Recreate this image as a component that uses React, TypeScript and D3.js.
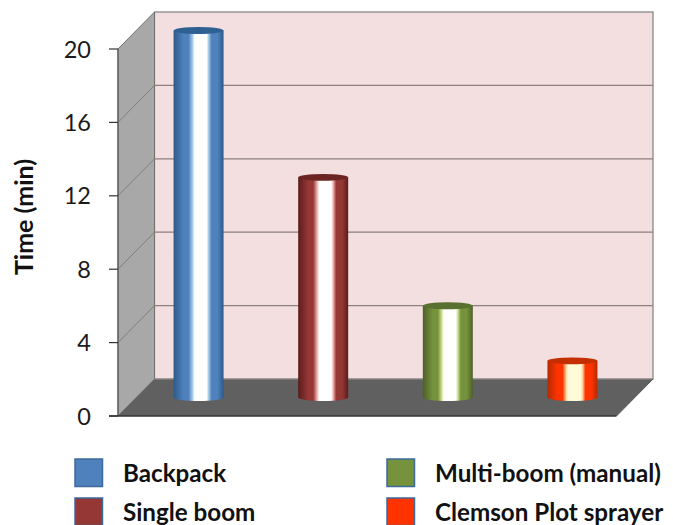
import React from "react";
import * as d3 from "d3";

const categories = ["Backpack", "Single boom", "Multi-boom (manual)", "Clemson Plot sprayer"];
const minutes = [20, 12, 5, 2];
const yTicks = [0, 4, 8, 12, 16, 20];
const darkShades = ["#2c5a8a", "#5a1c1b", "#4c6126", "#b32a00"];
const baseShades = ["#4f81bd", "#953735", "#76923c", "#ff3300"];
const glowShades = ["#a8cdea", "#f0b4b0", "#cfe08f", "#ffd9a0"];
const coreShades = ["#ffffff", "#ffffff", "#ffffff", "#fffbd8"];
const capShades = ["#2f6092", "#6b2422", "#587030", "#c42e00"];

const WIDTH = 673;
const HEIGHT = 525;
const FONT = "Lato, 'Open Sans', sans-serif";

// Oblique projection: the front plane sits at the axis, the wall is pushed up and to the right.
const DEPTH_X = 36.5;
const DEPTH_Y = 37;
const FRONT_LEFT = 118;
const FRONT_RIGHT = 616.5;
const Y_ZERO = 416;
const Y_TOP = 49;

const y = d3.scaleLinear().domain([0, 20]).range([Y_ZERO, Y_TOP]);
const x = d3
  .scaleBand<string>()
  .domain(categories)
  .range([FRONT_LEFT + DEPTH_X / 2, FRONT_RIGHT + DEPTH_X / 2]);

const BAR_WIDTH = 50;
const CAP_RY = 3.4;

function cylinderPath(cx: number, top: number, bottom: number) {
  const r = BAR_WIDTH / 2;
  return `M${cx - r},${top}L${cx - r},${bottom}A${r},${CAP_RY} 0 0 0 ${cx + r},${bottom}L${cx + r},${top}Z`;
}

const legendSlots = [
  { x: 75, y: 459 },
  { x: 75, y: 498 },
  { x: 387, y: 459 },
  { x: 387, y: 498 },
];

export default function App() {
  return (
    <svg
      width={WIDTH}
      height={HEIGHT}
      viewBox={`0 0 ${WIDTH} ${HEIGHT}`}
      style={{ position: "fixed", left: 0, top: 0, background: "#fff" }}
    >
      <defs>
        {categories.map((c, i) => (
          <linearGradient id={`cyl-${i}`} key={c} x1="0" x2="1" y1="0" y2="0">
            <stop offset="0" stopColor={darkShades[i]} />
            <stop offset="0.2" stopColor={baseShades[i]} />
            <stop offset="0.3" stopColor={baseShades[i]} />
            <stop offset="0.38" stopColor={glowShades[i]} />
            <stop offset="0.42" stopColor={coreShades[i]} />
            <stop offset="0.66" stopColor={coreShades[i]} />
            <stop offset="0.7" stopColor={glowShades[i]} />
            <stop offset="0.76" stopColor={baseShades[i]} />
            <stop offset="0.88" stopColor={baseShades[i]} />
            <stop offset="1" stopColor={darkShades[i]} />
          </linearGradient>
        ))}
      </defs>

      {/* back wall */}
      <rect
        x={FRONT_LEFT + DEPTH_X}
        y={y(20) - DEPTH_Y}
        width={FRONT_RIGHT - FRONT_LEFT}
        height={Y_ZERO - Y_TOP}
        fill="#f4dfe0"
        stroke="#7f7f7f"
        strokeWidth={1.2}
      />
      {/* side wall */}
      <polygon
        points={[
          [FRONT_LEFT, y(0)],
          [FRONT_LEFT, y(20)],
          [FRONT_LEFT + DEPTH_X, y(20) - DEPTH_Y],
          [FRONT_LEFT + DEPTH_X, y(0) - DEPTH_Y],
        ].join(" ")}
        fill="#a8a8a8"
        stroke="#6f6f6f"
        strokeWidth={1}
      />
      {/* gridlines wrap from the side wall onto the back wall */}
      {yTicks.slice(1, -1).map((t) => (
        <g key={t} stroke="#8c7f7f" strokeWidth={1.2} fill="none">
          <line x1={FRONT_LEFT} y1={y(t)} x2={FRONT_LEFT + DEPTH_X} y2={y(t) - DEPTH_Y} stroke="#7a7a7a" strokeWidth={0.9} />
          <line x1={FRONT_LEFT + DEPTH_X} y1={y(t) - DEPTH_Y} x2={FRONT_RIGHT + DEPTH_X} y2={y(t) - DEPTH_Y} />
        </g>
      ))}
      {/* floor */}
      <polygon
        points={[
          [FRONT_LEFT, y(0)],
          [FRONT_LEFT + DEPTH_X, y(0) - DEPTH_Y],
          [FRONT_RIGHT + DEPTH_X, y(0) - DEPTH_Y],
          [FRONT_RIGHT, y(0)],
        ].join(" ")}
        fill="#606060"
      />
      <line x1={FRONT_LEFT + DEPTH_X} y1={y(0) - DEPTH_Y} x2={FRONT_RIGHT + DEPTH_X} y2={y(0) - DEPTH_Y} stroke="#9a9090" strokeWidth={1} />

      {/* cylinders */}
      {categories.map((c, i) => {
        const cx = (x(c) as number) + x.bandwidth() / 2;
        const top = y(minutes[i]) - DEPTH_Y / 2;
        const bottom = y(0) - DEPTH_Y / 2;
        return (
          <g key={c}>
            <path d={cylinderPath(cx, top, bottom)} fill={`url(#cyl-${i})`} />
            <ellipse cx={cx} cy={top} rx={BAR_WIDTH / 2} ry={CAP_RY} fill={capShades[i]} />
          </g>
        );
      })}

      {/* front axis */}
      <line x1={FRONT_LEFT} y1={y(20)} x2={FRONT_LEFT} y2={y(0)} stroke="#595959" strokeWidth={1.2} />
      <line x1={FRONT_LEFT - 9} y1={y(0)} x2={FRONT_RIGHT} y2={y(0)} stroke="#333" strokeWidth={1.4} />
      <line x1={FRONT_RIGHT} y1={y(0)} x2={FRONT_RIGHT + DEPTH_X} y2={y(0) - DEPTH_Y} stroke="#555" strokeWidth={1} />
      {yTicks.map((t) => (
        <g key={t}>
          <line x1={FRONT_LEFT - 9} y1={y(t)} x2={FRONT_LEFT} y2={y(t)} stroke="#333" strokeWidth={1.2} />
          <text x={91} y={y(t) + 8.5} textAnchor="end" fontFamily={FONT} fontSize={23.5} fill="#1a1a1a">
            {t}
          </text>
        </g>
      ))}
      <text
        transform="translate(33,217) rotate(-90)"
        textAnchor="middle"
        fontFamily={FONT}
        fontWeight={700}
        fontSize={25}
        fill="#111"
      >
        Time (min)
      </text>

      {/* legend */}
      {categories.map((c, i) => (
        <g key={c}>
          <rect
            x={legendSlots[i].x}
            y={legendSlots[i].y}
            width={27.5}
            height={27.5}
            fill={baseShades[i]}
            stroke="#3c6a9c"
            strokeWidth={1.5}
          />
          <text
            x={legendSlots[i].x + 48}
            y={legendSlots[i].y + 23}
            fontFamily={FONT}
            fontWeight={700}
            fontSize={24.2}
            fill="#111"
          >
            {c}
          </text>
        </g>
      ))}
    </svg>
  );
}
